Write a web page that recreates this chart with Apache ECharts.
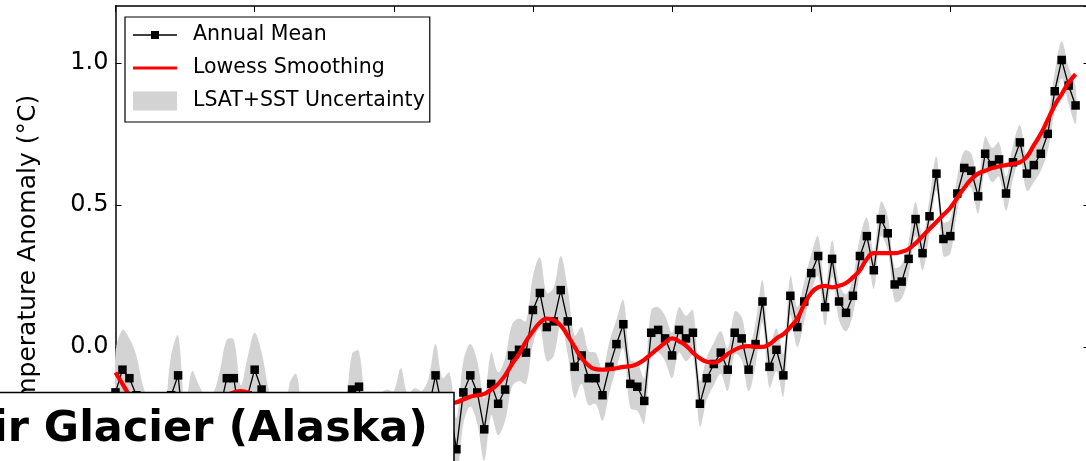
<!DOCTYPE html>
<html><head><meta charset="utf-8">
<script src="https://cdn.jsdelivr.net/npm/echarts@6/dist/echarts.min.js"></script>
<style>html,body{margin:0;padding:0;overflow:hidden;background:#fff}#c{width:1100px;height:560px}</style>
</head><body><div id="c"></div><script>
const startYear = 1880;
// Annual mean temperature anomaly (°C), 1880-2018
const annualMean = [
 -0.16,-0.08,-0.11,-0.17,-0.28,-0.33,-0.31,-0.36,-0.17,-0.10, // 1880s
 -0.35,-0.22,-0.27,-0.31,-0.30,-0.22,-0.11,-0.11,-0.27,-0.17, // 1890s
 -0.08,-0.15,-0.28,-0.37,-0.47,-0.26,-0.22,-0.39,-0.43,-0.48, // 1900s
 -0.43,-0.44,-0.36,-0.34,-0.15,-0.14,-0.36,-0.46,-0.29,-0.27, // 1910s
 -0.27,-0.19,-0.28,-0.26,-0.27,-0.22,-0.10,-0.22,-0.20,-0.36, // 1920s
 -0.16,-0.10,-0.16,-0.29,-0.13,-0.20,-0.15,-0.03,-0.01,-0.02, // 1930s
  0.13, 0.19, 0.07, 0.09, 0.20, 0.09,-0.07,-0.03,-0.11,-0.11, // 1940s
 -0.17,-0.07, 0.01, 0.08,-0.13,-0.14,-0.19, 0.05, 0.06, 0.03, // 1950s
 -0.03, 0.06, 0.03, 0.05,-0.20,-0.11,-0.06,-0.02,-0.08, 0.05, // 1960s
  0.03,-0.08, 0.01, 0.16,-0.07,-0.01,-0.10, 0.18, 0.07, 0.16, // 1970s
  0.26, 0.32, 0.14, 0.31, 0.16, 0.12, 0.18, 0.32, 0.39, 0.27, // 1980s
  0.45, 0.40, 0.22, 0.23, 0.31, 0.45, 0.33, 0.46, 0.61, 0.38, // 1990s
  0.39, 0.54, 0.63, 0.62, 0.53, 0.68, 0.64, 0.66, 0.54, 0.65, // 2000s
  0.72, 0.61, 0.64, 0.68, 0.75, 0.90, 1.01, 0.92, 0.85        // 2010s
];
// Lowess smoothing (°C)
const lowess = [
 -0.09,-0.13,-0.17,-0.20,-0.23,-0.25,-0.26,-0.27,-0.26,-0.25,
 -0.24,-0.23,-0.22,-0.21,-0.20,-0.18,-0.17,-0.16,-0.155,-0.16,
 -0.18,-0.21,-0.24,-0.27,-0.30,-0.32,-0.34,-0.36,-0.38,-0.39,
 -0.39,-0.38,-0.36,-0.34,-0.32,-0.31,-0.30,-0.30,-0.29,-0.28,
 -0.27,-0.26,-0.25,-0.24,-0.23,-0.22,-0.21,-0.205,-0.20,-0.195,
 -0.185,-0.175,-0.17,-0.165,-0.15,-0.13,-0.10,-0.06,-0.025,0.02,
  0.055,0.085,0.10,0.095,0.075,0.04,0.00,-0.04,-0.065,-0.078,
 -0.08,-0.078,-0.075,-0.07,-0.068,-0.06,-0.045,-0.025,-0.005,0.015,
  0.03,0.02,0.005,-0.02,-0.04,-0.052,-0.055,-0.045,-0.025,-0.01,
  0.00,0.003,0.00,0.00,0.01,0.03,0.045,0.07,0.10,0.15,
  0.19,0.21,0.215,0.21,0.215,0.225,0.245,0.27,0.31,0.33,
  0.33,0.33,0.33,0.335,0.345,0.365,0.39,0.415,0.44,0.465,
  0.49,0.525,0.56,0.59,0.61,0.62,0.63,0.635,0.64,0.645,
  0.65,0.67,0.71,0.75,0.80,0.85,0.89,0.93,0.96
];
// LSAT+SST uncertainty half-width (°C)
const uncertainty = [
 0.14,0.14,0.14,0.14,0.14,0.14,0.14,0.14,0.14,0.14,
 0.135,0.135,0.135,0.135,0.135,0.135,0.135,0.135,0.135,0.135,
 0.13,0.13,0.13,0.13,0.13,0.13,0.125,0.125,0.125,0.125,
 0.125,0.125,0.125,0.125,0.125,0.125,0.12,0.12,0.12,0.12,
 0.115,0.115,0.115,0.115,0.115,0.11,0.11,0.11,0.11,0.11,
 0.11,0.11,0.11,0.11,0.11,0.11,0.11,0.11,0.11,0.11,
 0.12,0.125,0.12,0.12,0.12,0.115,0.11,0.10,0.095,0.09,
 0.09,0.09,0.085,0.085,0.085,0.085,0.08,0.08,0.08,0.08,
 0.08,0.08,0.08,0.08,0.08,0.075,0.075,0.075,0.075,0.075,
 0.075,0.075,0.075,0.075,0.075,0.075,0.075,0.07,0.07,0.07,
 0.065,0.07,0.065,0.065,0.065,0.065,0.065,0.065,0.065,0.065,
 0.06,0.06,0.06,0.06,0.06,0.06,0.06,0.06,0.06,0.06,
 0.06,0.06,0.06,0.06,0.06,0.06,0.06,0.06,0.06,0.06,
 0.06,0.06,0.06,0.06,0.06,0.065,0.065,0.065,0.065
];
const seriesNames = ['Annual Mean','Lowess Smoothing','LSAT+SST Uncertainty'];
const titleText = 'Muir Glacier (Alaska)';
const yAxisTitle = 'Temperature Anomaly (°C)';

const years = annualMean.map((_, i) => startYear + i);
const meanData = years.map((y, i) => [y, annualMean[i]]);
const lowessData = years.map((y, i) => [y, lowess[i]]);
const bandData = years.map((y, i) => [y, +(annualMean[i] - uncertainty[i]).toFixed(3), +(annualMean[i] + uncertainty[i]).toFixed(3)]);

const FONT = 'DejaVu Sans';
const axisCommon = {
  type: 'value',
  axisLine: { show: true, onZero: false, lineStyle: { color: '#000', width: 1.5 } },
  axisTick: { show: true, inside: true, length: 6, lineStyle: { color: '#000', width: 1 } },
  splitLine: { show: false }
};
function renderBand(params, api) {
  if (params.dataIndex !== 0) return null;
  const upper = bandData.map(d => api.coord([d[0], d[2]]));
  const lower = bandData.map(d => api.coord([d[0], d[1]])).reverse();
  return {
    type: 'polygon',
    shape: { points: upper.concat(lower), smooth: 0.35 },
    style: { fill: '#d3d3d3', stroke: null },
    silent: true
  };
}
const chart = echarts.init(document.getElementById('c'), null, { renderer: 'canvas' });
chart.setOption({
  animation: false,
  backgroundColor: '#fff',
  grid: { left: 115.5, top: 6, width: 974, height: 483, outerBoundsMode: 'none', containLabel: false },
  xAxis: [
    Object.assign({}, axisCommon, { position: 'bottom', min: 1880, max: 2020, interval: 20, axisLabel: { show: false } }),
    Object.assign({}, axisCommon, { position: 'top', min: 1880, max: 2020, interval: 20, axisLabel: { show: false } })
  ],
  yAxis: [
    Object.assign({}, axisCommon, {
      position: 'left', min: -0.5, max: 1.2, interval: 0.5,
      axisLabel: { show: true, margin: 7, color: '#000', fontSize: 24, fontFamily: FONT,
        showMaxLabel: false, formatter: v => v.toFixed(1) }
    }),
    Object.assign({}, axisCommon, { position: 'right', min: -0.5, max: 1.2, interval: 0.5, axisLabel: { show: false } })
  ],
  legend: {
    left: 125, top: 17, orient: 'vertical',
    padding: [7.5, 5, 10.5, 8], itemGap: 12, itemWidth: 44, itemHeight: 19,
    backgroundColor: '#fff', borderColor: '#000', borderWidth: 1.2, borderRadius: 0,
    selectedMode: false,
    textStyle: { fontSize: 20.5, fontFamily: FONT, color: '#000', lineHeight: 19, padding: [0, 0, 0, 11] },
    data: [
      { name: seriesNames[0], icon: 'path://M0 0L0 0M44 19L44 19M0 8.85L18 8.85L18 5.5L26 5.5L26 8.85L44 8.85L44 10.15L26 10.15L26 13.5L18 13.5L18 10.15L0 10.15Z', itemStyle: { color: '#000', borderWidth: 0 } },
      { name: seriesNames[1], icon: 'path://M0 0L0 0M44 19L44 19M0 8L44 8L44 11L0 11Z', itemStyle: { color: '#ff0000', borderWidth: 0 } },
      { name: seriesNames[2], icon: 'rect', itemStyle: { color: '#d3d3d3', borderWidth: 0 } }
    ]
  },
  series: [
    { name: seriesNames[2], type: 'custom', data: bandData, encode: { x: 0, y: [1, 2] },
      renderItem: renderBand, clip: true, color: '#d3d3d3', itemStyle: { color: '#d3d3d3' }, silent: true, z: 1 },
    { name: seriesNames[0], type: 'line', data: meanData, color: '#000',
      symbol: 'rect', symbolSize: 8.5, itemStyle: { color: '#000', borderWidth: 0 },
      lineStyle: { color: '#000', width: 1.3 }, silent: true, z: 2 },
    { name: seriesNames[1], type: 'line', data: lowessData, color: '#ff0000',
      symbol: 'none', smooth: 0.5, lineStyle: { color: '#ff0000', width: 4.2 }, silent: true, z: 3 }
  ],
  graphic: [
    { type: 'text', x: 28, y: 261.5, rotation: Math.PI / 2, z: 50,
      style: { text: yAxisTitle, fontSize: 25, fontFamily: FONT, fill: '#000', textAlign: 'center', textVerticalAlign: 'middle' } },
    { type: 'rect', z: 100, shape: { x: -20, y: 392.5, width: 474, height: 150 },
      style: { fill: '#fff', stroke: '#000', lineWidth: 1.5 } },
    { type: 'text', x: 428, y: 430, z: 101,
      style: { text: titleText, fontSize: 43, fontWeight: 'bold', fontFamily: FONT, fill: '#000', textAlign: 'right', textVerticalAlign: 'middle' } }
  ]
});
</script></body></html>
